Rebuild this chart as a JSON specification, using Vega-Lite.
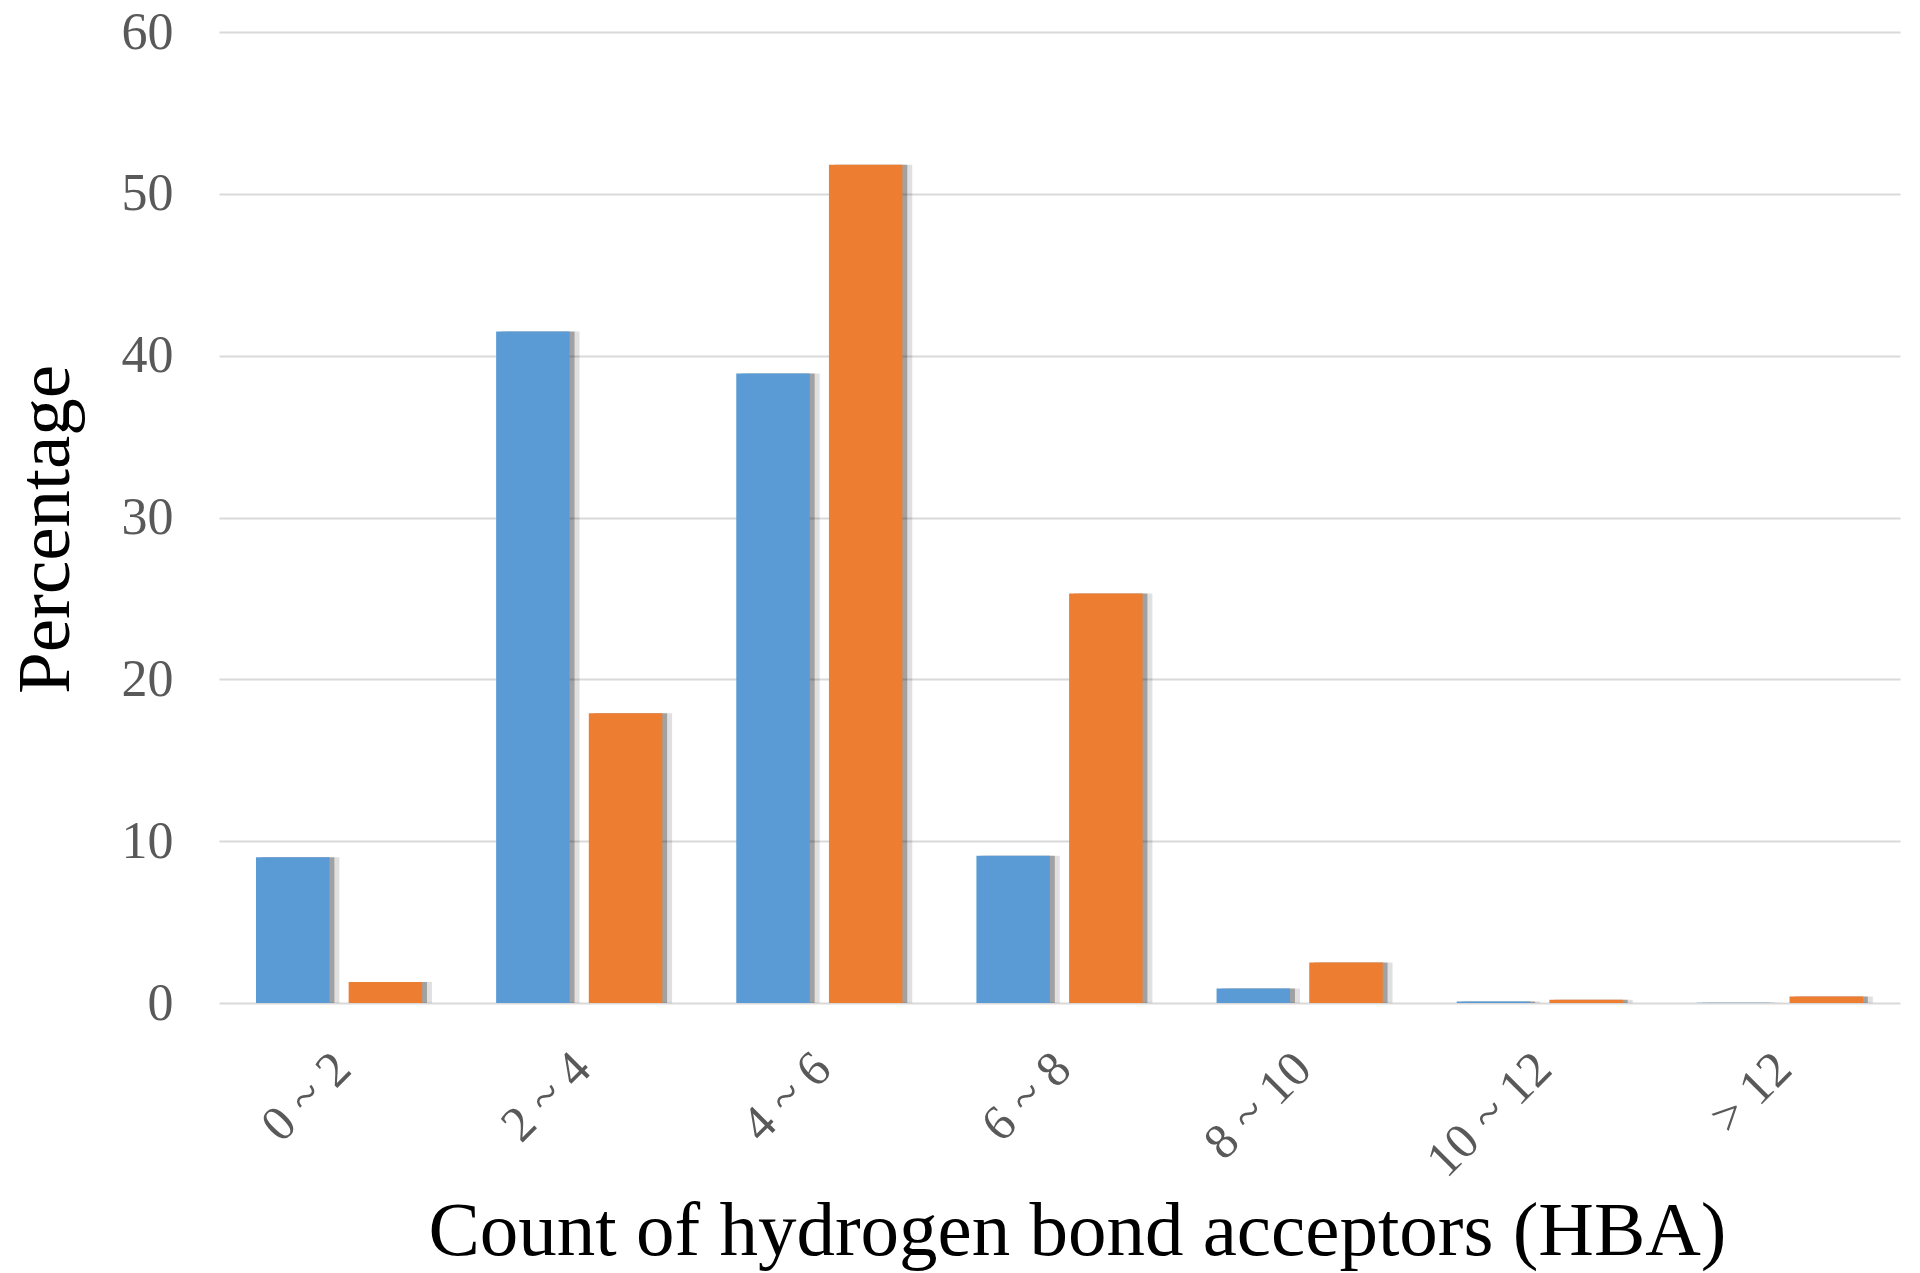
{
  "$schema": "https://vega.github.io/schema/vega-lite/v6.json",
  "width": 1681,
  "height": 971,
  "autosize": {"type": "none"},
  "padding": {"left": 219, "top": 32, "right": 20, "bottom": 270},
  "background": "white",
  "config": {
    "view": {"stroke": null},
    "font": "Liberation Serif",
    "axis": {"labelFont": "Liberation Serif", "titleFont": "Liberation Serif"}
  },
  "data": {
    "values": [
      {"cat": "0 ~ 2", "series": "Set 1", "pct": 9.0},
      {"cat": "2 ~ 4", "series": "Set 1", "pct": 41.5},
      {"cat": "4 ~ 6", "series": "Set 1", "pct": 38.9},
      {"cat": "6 ~ 8", "series": "Set 1", "pct": 9.1},
      {"cat": "8 ~ 10", "series": "Set 1", "pct": 0.9},
      {"cat": "10 ~ 12", "series": "Set 1", "pct": 0.1},
      {"cat": "> 12", "series": "Set 1", "pct": 0.02},
      {"cat": "0 ~ 2", "series": "Set 2", "pct": 1.3},
      {"cat": "2 ~ 4", "series": "Set 2", "pct": 17.9},
      {"cat": "4 ~ 6", "series": "Set 2", "pct": 51.8},
      {"cat": "6 ~ 8", "series": "Set 2", "pct": 25.3},
      {"cat": "8 ~ 10", "series": "Set 2", "pct": 2.5},
      {"cat": "10 ~ 12", "series": "Set 2", "pct": 0.2},
      {"cat": "> 12", "series": "Set 2", "pct": 0.4}
    ]
  },
  "encoding": {
    "x": {
      "field": "cat",
      "type": "nominal",
      "sort": ["0 ~ 2", "2 ~ 4", "4 ~ 6", "6 ~ 8", "8 ~ 10", "10 ~ 12", "> 12"],
      "scale": {"paddingInner": 0.308, "paddingOuter": 0.154},
      "axis": {
        "title": "Count of hydrogen bond acceptors (HBA)",
        "titleFontSize": 77,
        "titleFontWeight": "normal",
        "titleColor": "#000000",
        "titleX": 858,
        "titleY": 251,
        "titleBaseline": "alphabetic",
        "labelAngle": -45,
        "labelFontSize": 50,
        "labelColor": "#595959",
        "labelPadding": 40,
        "labelOffset": -14,
        "ticks": false,
        "domain": false,
        "grid": false
      }
    },
    "y": {
      "field": "pct",
      "type": "quantitative",
      "scale": {"domain": [0, 60], "nice": false},
      "axis": {
        "title": "Percentage",
        "titleFontSize": 75,
        "titleFontWeight": "normal",
        "titleColor": "#000000",
        "titleX": -151,
        "titleY": 497,
        "titleBaseline": "alphabetic",
        "titleAngle": -90,
        "values": [0, 10, 20, 30, 40, 50, 60],
        "labelFontSize": 52,
        "labelColor": "#595959",
        "labelPadding": 46,
        "ticks": false,
        "domain": false,
        "grid": true,
        "gridColor": "#d9d9d9",
        "gridWidth": 2
      }
    }
  },
  "layer": [
    {
      "mark": {"type": "bar", "color": "#000000", "opacity": 0.12},
      "encoding": {
        "xOffset": {"field": "series", "type": "nominal", "scale": {"paddingInner": 0.207, "paddingOuter": 0, "range": [10, 176]}}
      }
    },
    {
      "mark": {"type": "bar", "color": "#000000", "opacity": 0.28},
      "encoding": {
        "xOffset": {"field": "series", "type": "nominal", "scale": {"paddingInner": 0.207, "paddingOuter": 0, "range": [5, 171]}}
      }
    },
    {
      "mark": {"type": "bar"},
      "encoding": {
        "xOffset": {"field": "series", "type": "nominal", "scale": {"paddingInner": 0.207, "paddingOuter": 0}},
        "color": {
          "field": "series",
          "type": "nominal",
          "scale": {"domain": ["Set 1", "Set 2"], "range": ["#5B9BD5", "#ED7D31"]},
          "legend": null
        }
      }
    }
  ],
  "resolve": {"scale": {"xOffset": "independent"}}
}
